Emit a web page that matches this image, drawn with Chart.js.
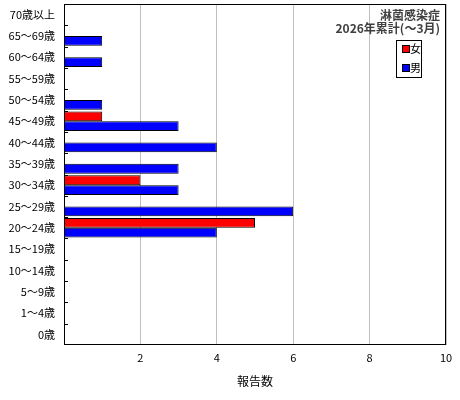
<!DOCTYPE html>
<html lang="ja">
<head>
<meta charset="utf-8">
<script src="https://cdn.jsdelivr.net/npm/chart.js@4/dist/chart.umd.min.js"></script>
<style>
  body { margin: 0; background: #fff; }
  #wrap { width: 460px; height: 400px; }
</style>
</head>
<body>
<div id="wrap"><canvas id="chart" width="460" height="400"></canvas></div>
<script>
// 年齢階級（上から順）
const ageGroups = ["70歳以上", "65～69歳", "60～64歳", "55～59歳", "50～54歳", "45～49歳", "40～44歳", "35～39歳",
  "30～34歳", "25～29歳", "20～24歳", "15～19歳", "10～14歳", "5～9歳", "1～4歳", "0歳"];
const female = [0, 0, 0, 0, 0, 1, 0, 0, 2, 0, 5, 0, 0, 0, 0, 0];
const male   = [0, 1, 1, 0, 1, 3, 4, 3, 3, 6, 4, 0, 0, 0, 0, 0];
const xTicks = [0, 2, 4, 6, 8, 10];
const titleLines = ["淋菌感染症", "2026年累計(～3月)"];
const axisTitle = "報告数";

const FONT = "'Noto Sans CJK JP', 'Noto Sans', sans-serif";

// 枠線・内向き目盛り・タイトル・凡例
const decorations = {
  id: "decorations",
  afterDraw(chart) {
    const ctx = chart.ctx;
    const a = chart.chartArea;
    const y = chart.scales.y;
    ctx.save();
    ctx.strokeStyle = "#000";
    ctx.lineWidth = 1;
    ctx.strokeRect(a.left + 0.5, a.top + 0.5, a.right - a.left - 1, a.bottom - a.top - 1);

    // 区切りの小さな目盛り
    for (let i = 1; i < ageGroups.length; i++) {
      const py = Math.round((y.getPixelForTick(i - 1) + y.getPixelForTick(i)) / 2) + 0.5;
      ctx.beginPath();
      ctx.moveTo(a.left, py);
      ctx.lineTo(a.left + 4, py);
      ctx.stroke();
    }

    // タイトル
    ctx.fillStyle = "#404040";
    ctx.font = "bold 12px " + FONT;
    ctx.textAlign = "right";
    ctx.textBaseline = "middle";
    titleLines.forEach((t, i) => ctx.fillText(t, a.right - 6, a.top + 11 + i * 13));

    // 凡例
    const bx = 396, by = 40, bw = 25, bh = 37;
    ctx.fillStyle = "#fff";
    ctx.fillRect(bx, by, bw, bh);
    ctx.strokeStyle = "#000";
    ctx.strokeRect(bx + 0.5, by + 0.5, bw, bh);
    ctx.font = "11px " + FONT;
    ctx.textAlign = "left";
    chart.data.datasets.forEach((ds, i) => {
      const ly = by + 9 + i * 19;
      ctx.fillStyle = ds.backgroundColor;
      ctx.fillRect(bx + 7, ly - 3, 6, 6);
      ctx.strokeStyle = "#000";
      ctx.strokeRect(bx + 6.5, ly - 3.5, 7, 7);
      ctx.fillStyle = "#000";
      ctx.fillText(ds.label, bx + 14, ly);
    });
    ctx.restore();
  }
};

new Chart(document.getElementById("chart"), {
  type: "bar",
  data: {
    labels: ageGroups,
    datasets: [
      { label: "女", data: female, backgroundColor: "#ff0000", borderColor: "#000", borderWidth: 1 },
      { label: "男", data: male, backgroundColor: "#0000ff", borderColor: "#000", borderWidth: 1 }
    ]
  },
  options: {
    indexAxis: "y",
    responsive: false,
    animation: false,
    devicePixelRatio: 1,
    layout: { padding: { top: 4, right: 14, left: 0, bottom: 0 } },
    datasets: { bar: { categoryPercentage: 0.92, barPercentage: 1.0 } },
    plugins: {
      legend: { display: false },
      tooltip: { enabled: false }
    },
    scales: {
      x: {
        min: xTicks[0],
        max: xTicks[xTicks.length - 1],
        afterBuildTicks(scale) {
          scale.ticks = xTicks.map((v) => ({ value: v }));
        },
        afterFit(scale) {
          scale.height = 55;
          scale.paddingLeft = 0;
          scale.paddingRight = 0;
        },
        grid: { color: "#c0c0c0", drawTicks: false, lineWidth: 1 },
        border: { display: false },
        ticks: {
          color: "#000",
          padding: 6,
          font: { family: FONT, size: 11 },
          callback: (v) => (v === 0 ? "" : v)
        },
        title: {
          display: true,
          text: axisTitle,
          color: "#000",
          font: { family: FONT, size: 12 },
          padding: { top: 4, bottom: 11 }
        }
      },
      y: {
        afterFit(scale) {
          scale.width = 64;
          scale.paddingTop = 0;
          scale.paddingBottom = 0;
        },
        grid: { display: false, drawTicks: false },
        border: { display: false },
        ticks: {
          color: "#000",
          padding: 9,
          autoSkip: false,
          font: { family: FONT, size: 11 }
        }
      }
    }
  },
  plugins: [decorations]
});
</script>
</body>
</html>
